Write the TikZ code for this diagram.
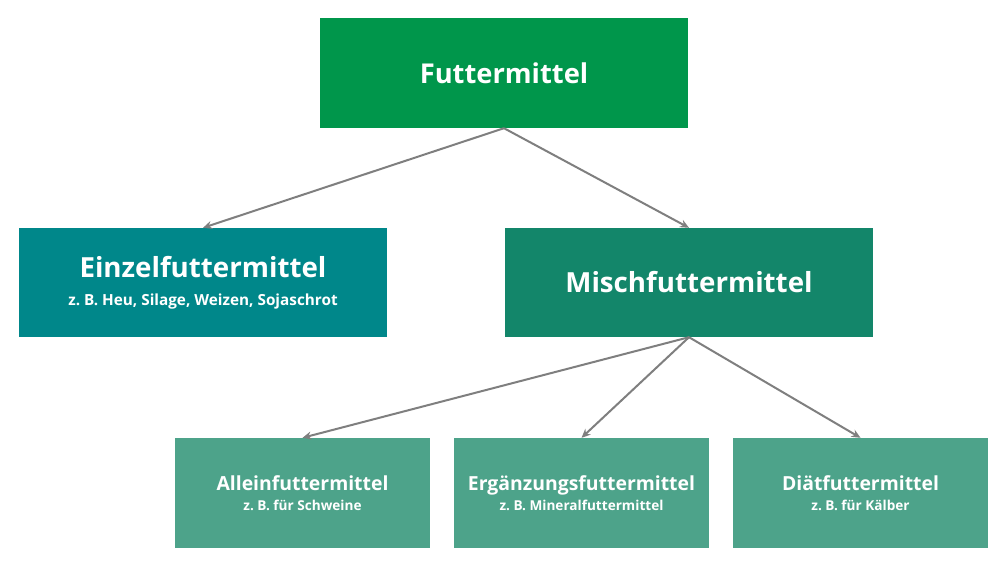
\documentclass[tikz,border=0pt]{standalone}
\usepackage{fontspec}
\setmainfont{Open Sans}
\usepackage{tikz}
\usetikzlibrary{arrows.meta,positioning}

\definecolor{fmgreen}{HTML}{00964B}
\definecolor{ezteal}{HTML}{00878A}
\definecolor{mfgreen}{HTML}{13866A}
\definecolor{subgreen}{HTML}{4DA38A}
\definecolor{arrgray}{HTML}{7F7F7F}

\newcommand{\midnote}{\bfseries\fontsize{15.3}{17}\selectfont}
\newcommand{\lownote}{\bfseries\fontsize{13.6}{15}\selectfont}
\frenchspacing

\begin{document}
\begin{tikzpicture}[x=1pt,y=-1pt,
  every node/.style={rectangle, text=white, align=center, inner sep=0pt},
  topbox/.style={fill=fmgreen, minimum width=368pt, minimum height=110pt,
                 font=\bfseries\fontsize{27.3}{32}\selectfont},
  midbox/.style={minimum width=368pt, minimum height=109pt,
                 font=\bfseries\fontsize{27.7}{32}\selectfont},
  lowbox/.style={fill=subgreen, minimum width=255pt, minimum height=110pt,
                 font=\bfseries\fontsize{19.4}{22}\selectfont},
  link/.style={draw=arrgray, line width=2pt, -{Stealth[length=9pt,width=8pt]}}]

\useasboundingbox (0,0) rectangle (1008,567);

% top level
\node (fm) [topbox] at (504,73) {Futtermittel};

% second level
\node (ez) [midbox, fill=ezteal] at (203,282.5)
  {Einzelfuttermittel\\[-4pt]{\midnote z. B. Heu, Silage, Weizen, Sojaschrot}};
\node (mf) [midbox, fill=mfgreen] at (689,282.5) {Mischfuttermittel};

% third level
\node (af) [lowbox] at (302.5,493)
  {Alleinfuttermittel\\[-2pt]{\lownote z. B. für Schweine}};
\node (ef) [lowbox] at (581.5,493)
  {Ergänzungsfuttermittel\\[-2pt]{\lownote z. B. Mineralfuttermittel}};
\node (df) [lowbox] at (860.5,493)
  {Diätfuttermittel\\[-2pt]{\lownote z. B. für Kälber}};

\draw [link] (fm.south) -- (ez.north);
\draw [link] (fm.south) -- (mf.north);
\draw [link] (mf.south) -- (af.north);
\draw [link] (mf.south) -- (ef.north);
\draw [link] (mf.south) -- (df.north);

\end{tikzpicture}
\end{document}
